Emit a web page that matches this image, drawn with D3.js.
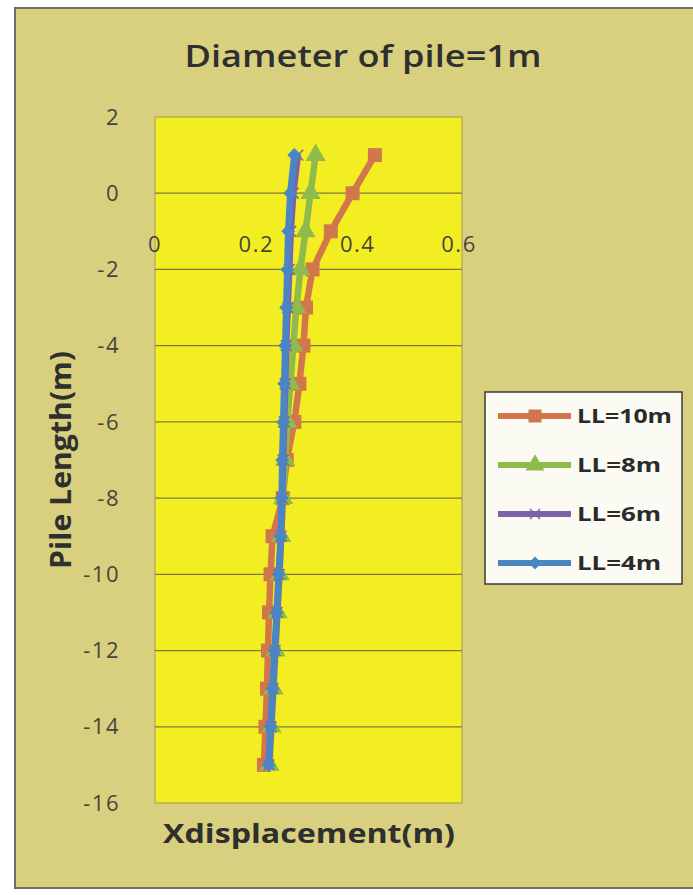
<!DOCTYPE html>
<html>
<head>
<meta charset="utf-8">
<script src="https://cdn.jsdelivr.net/npm/d3@7"></script>
<style>
  body { margin: 0; background: #ffffff; }
  svg { display: block; font-family: "Open Sans", "Noto Sans", sans-serif; }
</style>
</head>
<body>
<svg></svg>
<script>
const size = {w: 693, h: 895};
const plot = {l: 155, r: 462, t: 117, b: 803};

// depth values (pile length, m) shared by every series
const depths = [1, 0, -1, -2, -3, -4, -5, -6, -7, -8, -9, -10, -11, -12, -13, -14, -15];

// x displacement per series
const ll10 = [0.434, 0.390, 0.347, 0.311, 0.298, 0.293, 0.285, 0.275, 0.260, 0.252, 0.232, 0.228, 0.225, 0.223, 0.221, 0.218, 0.215];
const ll8  = [0.317, 0.307, 0.297, 0.287, 0.279, 0.273, 0.267, 0.261, 0.257, 0.253, 0.249, 0.246, 0.242, 0.238, 0.234, 0.230, 0.226];
const ll6  = [0.282, 0.273, 0.268, 0.265, 0.262, 0.259, 0.257, 0.255, 0.253, 0.251, 0.249, 0.245, 0.241, 0.237, 0.233, 0.229, 0.225];
const ll4  = [0.275, 0.267, 0.263, 0.261, 0.259, 0.257, 0.255, 0.253, 0.251, 0.250, 0.248, 0.244, 0.240, 0.236, 0.232, 0.228, 0.224];

const seriesNames = ['LL=10m', 'LL=8m', 'LL=6m', 'LL=4m'];
const seriesColors = ['#d2774b', '#8fba4c', '#7e62a8', '#4a86c6'];
const seriesMarkers = ['square', 'triangle', 'cross', 'diamond'];

const xTicks = [0, 0.2, 0.4, 0.6];
const yTicks = [2, 0, -2, -4, -6, -8, -10, -12, -14, -16];

const series = [ll10, ll8, ll6, ll4].map((vals, i) => ({
  name: seriesNames[i],
  color: seriesColors[i],
  marker: seriesMarkers[i],
  points: vals.map((v, j) => ({x: v, y: depths[j]}))
}));

const svg = d3.select('svg').attr('width', size.w).attr('height', size.h);

// chart background and border
svg.append('rect')
  .attr('x', 15).attr('y', 8)
  .attr('width', 690).attr('height', 880)
  .attr('fill', '#d9d07f')
  .attr('stroke', '#6f6f68').attr('stroke-width', 2);

const x = d3.scaleLinear().domain([0, 0.6]).range([plot.l, plot.r - 3]);
const y = d3.scaleLinear().domain([2, -16]).range([plot.t, plot.b]);

// plot area
svg.append('rect')
  .attr('x', plot.l).attr('y', plot.t)
  .attr('width', plot.r - plot.l).attr('height', plot.b - plot.t)
  .attr('fill', '#f3ee22')
  .attr('stroke', '#9c9a60').attr('stroke-width', 1);

// gridlines
svg.append('g')
  .selectAll('line')
  .data(yTicks.slice(1, -1))
  .join('line')
  .attr('x1', plot.l).attr('x2', plot.r)
  .attr('y1', d => y(d)).attr('y2', d => y(d))
  .attr('stroke', '#7d7a3c').attr('stroke-width', 1.2);

// y tick labels
svg.append('g')
  .selectAll('text')
  .data(yTicks)
  .join('text')
  .attr('x', 120)
  .attr('y', d => y(d))
  .attr('dy', '0.35em')
  .attr('text-anchor', 'end')
  .attr('font-size', 22)
  .attr('letter-spacing', 1.5)
  .attr('fill', '#45453c')
  .text(d => d);

// x tick labels (sit inside the plot, below the zero line)
svg.append('g')
  .selectAll('text')
  .data(xTicks)
  .join('text')
  .attr('x', d => x(d))
  .attr('y', y(-1.35))
  .attr('dy', '0.35em')
  .attr('text-anchor', 'middle')
  .attr('font-size', 22)
  .attr('letter-spacing', 1.5)
  .attr('fill', '#45453c')
  .text(d => d);

// titles, stretched to the width they take in the picture
svg.append('text')
  .attr('x', 363).attr('y', 67)
  .attr('text-anchor', 'middle')
  .attr('font-size', 30).attr('font-weight', 600)
  .attr('textLength', 357).attr('lengthAdjust', 'spacingAndGlyphs')
  .attr('fill', '#2f2f2f')
  .text('Diameter of pile=1m');

svg.append('text')
  .attr('x', 309).attr('y', 843)
  .attr('text-anchor', 'middle')
  .attr('font-size', 27).attr('font-weight', 700)
  .attr('textLength', 292).attr('lengthAdjust', 'spacingAndGlyphs')
  .attr('fill', '#2f2f2f')
  .text('Xdisplacement(m)');

svg.append('text')
  .attr('transform', 'translate(71,460) rotate(-90)')
  .attr('text-anchor', 'middle')
  .attr('font-size', 29).attr('font-weight', 700)
  .attr('textLength', 218).attr('lengthAdjust', 'spacingAndGlyphs')
  .attr('fill', '#2f2f2f')
  .text('Pile Length(m)');

// marker drawing helper
function marker(sel, type, color, s) {
  if (type === 'square') {
    sel.append('rect').attr('x', -s / 2).attr('y', -s / 2)
      .attr('width', s).attr('height', s).attr('fill', color);
  } else if (type === 'triangle') {
    sel.append('path').attr('d', d3.symbol(d3.symbolTriangle, s * s * 0.9)()).attr('fill', color);
  } else if (type === 'diamond') {
    sel.append('path').attr('d', `M0,${-s / 2}L${s / 2},0L0,${s / 2}L${-s / 2},0Z`).attr('fill', color);
  } else {
    const h = s / 2.6;
    sel.append('path').attr('d', `M${-h},${-h}L${h},${h}M${-h},${h}L${h},${-h}`)
      .attr('stroke', color).attr('stroke-width', 1.5);
  }
}

const line = d3.line().x(d => x(d.x)).y(d => y(d.y));
const linesG = svg.append('g');

series.forEach(s => {
  const g = linesG.append('g');
  g.append('path')
    .attr('d', line(s.points))
    .attr('fill', 'none')
    .attr('stroke', s.color)
    .attr('stroke-width', 6.5)
    .attr('stroke-linejoin', 'round');
  g.selectAll('g.pt')
    .data(s.points)
    .join('g').classed('pt', true)
    .attr('transform', d => `translate(${x(d.x)},${y(d.y)})`)
    .each(function() { marker(d3.select(this), s.marker, s.color, 14); });
});

// legend
const legend = svg.append('g').attr('transform', 'translate(485,392)');
legend.append('rect')
  .attr('width', 197).attr('height', 192)
  .attr('fill', '#fbfbf4')
  .attr('stroke', '#3a3a3a').attr('stroke-width', 1.5);

const items = legend.selectAll('g.item')
  .data(series)
  .join('g').classed('item', true)
  .attr('transform', (d, i) => `translate(0,${24 + i * 49})`);

items.append('line')
  .attr('x1', 13).attr('x2', 86)
  .attr('stroke', d => d.color).attr('stroke-width', 6);
items.each(function(d) {
  const m = d3.select(this).append('g').attr('transform', 'translate(50,0)');
  marker(m, d.marker, d.color, 13);
});
items.append('text')
  .attr('x', 92).attr('dy', '0.36em')
  .attr('font-size', 19).attr('font-weight', 700)
  .attr('textLength', d => d.name.length === 6 ? 95 : 84)
  .attr('lengthAdjust', 'spacingAndGlyphs')
  .attr('fill', '#2a2a2a')
  .text(d => d.name);
</script>
</body>
</html>
